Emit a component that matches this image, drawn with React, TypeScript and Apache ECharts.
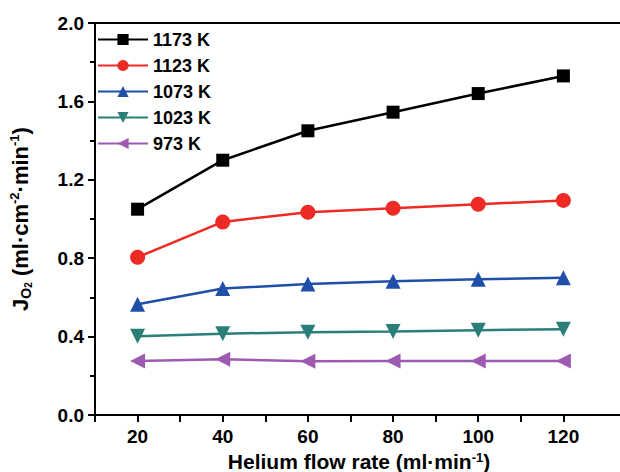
import React, { useEffect, useRef } from "react";
import * as echarts from "echarts";

const flowRates = [20, 40, 60, 80, 100, 120];
const xTickValues = [10, 20, 30, 40, 50, 60, 70, 80, 90, 100, 110, 120];
const seriesNames = ["1173 K", "1123 K", "1073 K", "1023 K", "973 K"];
const j1173 = [1.05, 1.3, 1.45, 1.545, 1.64, 1.73];
const j1123 = [0.805, 0.985, 1.035, 1.055, 1.075, 1.095];
const j1073 = [0.565, 0.645, 0.668, 0.682, 0.692, 0.7];
const j1023 = [0.402, 0.415, 0.422, 0.426, 0.433, 0.438];
const j973 = [0.276, 0.284, 0.274, 0.276, 0.276, 0.276];
const seriesValues = [j1173, j1123, j1073, j1023, j973];
const colors = ["#000000", "#ee2a24", "#1f4fa8", "#2a7f78", "#9c5bb0"];
const symbols = ["rect", "circle", "triangle", "triangle", "triangle"];
const symbolRotate = [0, 0, 0, 180, 90];
const symbolSizes = [13, 15, 15, 15, 15];

export default function App() {
  const ref = useRef<HTMLDivElement>(null);
  useEffect(() => {
    const chart = echarts.init(ref.current!, null, { renderer: "svg" });
    const font = "'Liberation Sans', Arial, sans-serif";
    chart.setOption({
      animation: false,
      textStyle: { fontFamily: font },
      grid: {
        left: 95,
        right: -3,
        top: 23,
        bottom: 57,
        show: true,
        borderColor: "#000",
        borderWidth: 2,
        outerBoundsMode: "none",
        containLabel: false,
      },
      legend: {
        orient: "vertical",
        left: 97,
        top: 30,
        padding: 0,
        itemWidth: 50,
        itemHeight: 14,
        itemGap: 7,
        data: seriesNames,
        textStyle: { fontSize: 18, fontWeight: "bold", color: "#000", fontFamily: font, lineHeight: 19 },
      },
      xAxis: {
        type: "value",
        min: 10,
        max: 134,
        interval: 10,
        axisLine: { onZero: false, lineStyle: { color: "#000", width: 2 } },
        axisTick: { show: true, length: 7, lineStyle: { width: 2, color: "#000" }, customValues: xTickValues },
        axisLabel: {
          fontSize: 19,
          fontWeight: "bold",
          color: "#000",
          margin: 12,
          customValues: flowRates,
        },
        splitLine: { show: false },
        name: "{n|Helium flow rate (ml·min}{s|-1}{n|)}",
        nameLocation: "middle",
        nameGap: 33,
        nameTextStyle: {
          lineHeight: 21,
          rich: {
            n: { fontSize: 21, lineHeight: 21, fontWeight: "bold", color: "#000", fontFamily: font },
            s: { fontSize: 13, lineHeight: 13, fontWeight: "bold", color: "#000", fontFamily: font, verticalAlign: "top", padding: [0, 0, 8, 0] },
          },
        },
      },
      yAxis: {
        type: "value",
        min: 0,
        max: 2.0,
        interval: 0.4,
        axisLine: { show: true, lineStyle: { color: "#000", width: 2 } },
        axisTick: { show: true, length: 7, lineStyle: { width: 2, color: "#000" } },
        minorTick: { show: true, splitNumber: 2, length: 5, lineStyle: { width: 2, color: "#000" } },
        axisLabel: {
          fontSize: 19,
          fontWeight: "bold",
          color: "#000",
          margin: 11,
          formatter: (v: number) => v.toFixed(1),
        },
        splitLine: { show: false },
        name: "{n|J}{s|O}{ss|2}{n| (ml·cm}{p|-2}{n|·min}{p|-1}{n|)}",
        nameLocation: "middle",
        nameGap: 62,
        nameTextStyle: {
          rich: {
            n: { fontSize: 22, fontWeight: "bold", color: "#000", fontFamily: font },
            s: { fontSize: 14, fontWeight: "bold", color: "#000", fontFamily: font, verticalAlign: "bottom", padding: [11, 0, 0, 0] },
            ss: { fontSize: 10, fontWeight: "bold", color: "#000", fontFamily: font, verticalAlign: "bottom", padding: [15, 0, 0, 0] },
            p: { fontSize: 13, fontWeight: "bold", color: "#000", fontFamily: font, verticalAlign: "top", padding: [0, 0, 10, 0] },
          },
        },
      },
      series: seriesNames.map((name, i) => ({
        name,
        type: "line",
        data: flowRates.map((x, k) => [x, seriesValues[i][k]]),
        symbol: symbols[i],
        symbolSize: symbolSizes[i],
        symbolRotate: symbolRotate[i],
        showAllSymbol: true,
        color: colors[i],
        lineStyle: { width: 2.5, color: colors[i] },
        itemStyle: { color: colors[i] },
      })),
    });
    return () => chart.dispose();
  }, []);
  return <div ref={ref} style={{ position: "absolute", left: 0, top: 0, width: 620, height: 472 }} />;
}
